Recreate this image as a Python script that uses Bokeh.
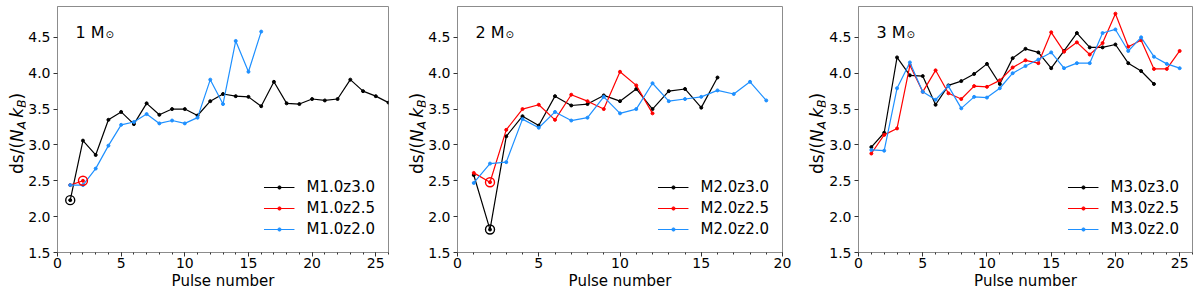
from bokeh.plotting import figure
from bokeh.models import Label, SingleIntervalTicker, NumeralTickFormatter, Range1d, Div
from bokeh.layouts import row
from bokeh.embed import file_html
from bokeh.resources import INLINE

FONT = "DejaVu Sans"
BLACK = "#000000"
RED = "#ff0000"
BLUE = "#1e90ff"

# ---------------- data ----------------
# Panel 1 : 1 Msun
p1_z30_x = list(range(1, 27))
p1_z30_y = [2.23, 3.06, 2.86, 3.35, 3.46, 3.29, 3.58, 3.42, 3.50, 3.50, 3.41, 3.61, 3.71,
            3.68, 3.67, 3.54, 3.88, 3.58, 3.57, 3.64, 3.62, 3.64, 3.91, 3.75, 3.68, 3.59]
p1_z25_x = [1, 2]
p1_z25_y = [2.44, 2.50]
p1_z20_x = list(range(1, 17))
p1_z20_y = [2.44, 2.44, 2.67, 2.99, 3.28, 3.32, 3.43, 3.30, 3.34, 3.30, 3.38, 3.91, 3.57,
            4.45, 4.02, 4.58]
p1_circ_x = [1, 2]
p1_circ_y = [2.23, 2.50]
p1_circ_c = [BLACK, RED]

# Panel 2 : 2 Msun
p2_z30_x = list(range(1, 17))
p2_z30_y = [2.58, 1.82, 3.12, 3.40, 3.27, 3.68, 3.55, 3.57, 3.69, 3.61, 3.78, 3.50, 3.75,
            3.78, 3.52, 3.94]
p2_z25_x = list(range(1, 13))
p2_z25_y = [2.61, 2.48, 3.21, 3.50, 3.56, 3.35, 3.70, 3.61, 3.50, 4.02, 3.83, 3.44]
p2_z20_x = list(range(1, 20))
p2_z20_y = [2.47, 2.74, 2.76, 3.36, 3.24, 3.46, 3.34, 3.38, 3.67, 3.44, 3.50, 3.86, 3.61,
            3.64, 3.67, 3.76, 3.71, 3.88, 3.62]
p2_circ_x = [2, 2]
p2_circ_y = [1.82, 2.48]
p2_circ_c = [BLACK, RED]

# Panel 3 : 3 Msun
p3_z30_x = list(range(1, 24))
p3_z30_y = [2.97, 3.17, 4.22, 3.97, 3.96, 3.56, 3.83, 3.89, 3.99, 4.13, 3.85, 4.21, 4.34,
            4.29, 4.07, 4.31, 4.56, 4.36, 4.36, 4.40, 4.14, 4.03, 3.85]
p3_z25_x = list(range(1, 26))
p3_z25_y = [2.88, 3.14, 3.23, 4.11, 3.74, 4.04, 3.72, 3.64, 3.82, 3.81, 3.90, 4.08, 4.18,
            4.14, 4.57, 4.30, 4.43, 4.26, 4.42, 4.83, 4.37, 4.46, 4.06, 4.06, 4.31]
p3_z20_x = list(range(1, 26))
p3_z20_y = [2.93, 2.92, 3.79, 4.15, 3.74, 3.63, 3.82, 3.51, 3.67, 3.66, 3.79, 4.00, 4.10,
            4.19, 4.29, 4.07, 4.14, 4.14, 4.56, 4.61, 4.31, 4.50, 4.23, 4.13, 4.07]
p3_circ_x = []
p3_circ_y = []
p3_circ_c = []

x_max = [26, 20, 26]
y_min, y_max = 1.5, 4.93
mass_labels = ["1 M", "2 M", "3 M"]
legend_names = [["M1.0z3.0", "M1.0z2.5", "M1.0z2.0"],
                ["M2.0z3.0", "M2.0z2.5", "M2.0z2.0"],
                ["M3.0z3.0", "M3.0z2.5", "M3.0z2.0"]]
x_label = "Pulse number"
y_tick_interval = 0.5
x_tick_interval = 5

HEIGHT = 297
YLAB_W = 25


def make_ylabel():
    """HTML block holding the rotated y-axis label ds/(N_A k_B)."""
    sub = "font-size:12px;line-height:0;vertical-align:-3px;"
    html = (
        f'<div style="position:relative;width:{YLAB_W}px;height:{HEIGHT}px;overflow:visible;">'
        '<div style="position:absolute;left:8.5px;top:174px;transform:rotate(-90deg);'
        "transform-origin:0 0;white-space:nowrap;font-family:'DejaVu Sans';"
        'font-size:17px;line-height:17px;color:#000;">'
        f'ds/(<i>N</i><span style="font-style:italic;{sub}">A</span>'
        f'&#8201;<i>k</i><span style="font-style:italic;{sub}">B</span>)'
        '</div></div>'
    )
    return Div(text=html, width=YLAB_W, height=HEIGHT, margin=0)


def make_panel(width, bl, br, xmax, mass, names, series, circles):
    p = figure(width=width, height=HEIGHT, x_range=Range1d(0, xmax),
               y_range=Range1d(y_min, y_max), output_backend="svg",
               toolbar_location=None, min_border_left=bl, min_border_right=br,
               min_border_top=6, min_border_bottom=45)
    p.xgrid.visible = False
    p.ygrid.visible = False
    p.outline_line_color = "#8c8c8c"
    p.background_fill_color = "white"
    p.border_fill_color = "white"

    p.xaxis.ticker = SingleIntervalTicker(interval=x_tick_interval, num_minor_ticks=5)
    p.yaxis.ticker = SingleIntervalTicker(interval=y_tick_interval, num_minor_ticks=0)
    p.yaxis.formatter = NumeralTickFormatter(format="0.0")
    for ax in (p.xaxis, p.yaxis):
        ax.axis_line_color = "#8c8c8c"
        ax.major_tick_line_color = "#333333"
        ax.minor_tick_line_color = "#333333"
        ax.major_tick_out = 4
        ax.major_tick_in = 0
        ax.minor_tick_out = 2
        ax.minor_tick_in = 0
        ax.major_label_text_font = FONT
        ax.major_label_text_font_size = "14px"
        ax.major_label_text_color = "#000000"
    p.xaxis.major_label_standoff = 1
    p.yaxis.major_label_standoff = 3
    p.xaxis.axis_label = x_label
    p.xaxis.axis_label_text_font = FONT
    p.xaxis.axis_label_text_font_size = "15px"
    p.xaxis.axis_label_text_font_style = "normal"
    p.xaxis.axis_label_text_color = "#000000"
    p.xaxis.axis_label_standoff = 1

    colors = [BLACK, RED, BLUE]
    for (xs, ys), c, nm in zip(series, colors, names):
        p.line(xs, ys, line_color=c, line_width=1.2, legend_label=nm)
        p.scatter(xs, ys, marker="circle", size=3, fill_color=c, line_color=c,
                  legend_label=nm)
    cx, cy, cc = circles
    if cx:
        p.scatter(cx, cy, marker="circle", size=9, fill_color=None, line_color=cc,
                  line_width=1.4)

    lg = p.legend[0]
    lg.location = "bottom_right"
    lg.background_fill_alpha = 0
    lg.border_line_alpha = 0
    lg.label_text_font = FONT
    lg.label_text_font_size = "15px"
    lg.label_text_color = "#000000"
    lg.glyph_width = 31
    lg.glyph_height = 8
    lg.label_height = 21
    lg.label_standoff = 12
    lg.spacing = 0
    lg.padding = 10
    lg.margin = 3

    # panel title "N M_sun"
    p.add_layout(Label(x=18, y=4.565, x_units="screen", y_units="data",
                       text=mass, text_font=FONT, text_font_size="16px",
                       text_color="#000000",
                       text_baseline="alphabetic", text_align="left"))
    p.add_layout(Label(x=18 + 30, y=4.545, x_units="screen", y_units="data",
                       text="\u2299", text_font=FONT, text_font_size="10px",
                       text_color="#000000",
                       text_baseline="alphabetic", text_align="left"))
    return p


y1 = make_ylabel()
p1 = make_panel(400 - YLAB_W, 29, 12, x_max[0], mass_labels[0], legend_names[0],
                [(p1_z30_x, p1_z30_y), (p1_z25_x, p1_z25_y), (p1_z20_x, p1_z20_y)],
                (p1_circ_x, p1_circ_y, p1_circ_c))
y2 = make_ylabel()
p2 = make_panel(400 - YLAB_W, 31, 18, x_max[1], mass_labels[1], legend_names[1],
                [(p2_z30_x, p2_z30_y), (p2_z25_x, p2_z25_y), (p2_z20_x, p2_z20_y)],
                (p2_circ_x, p2_circ_y, p2_circ_c))
y3 = make_ylabel()
p3 = make_panel(400 - YLAB_W, 33, 8, x_max[2], mass_labels[2], legend_names[2],
                [(p3_z30_x, p3_z30_y), (p3_z25_x, p3_z25_y), (p3_z20_x, p3_z20_y)],
                (p3_circ_x, p3_circ_y, p3_circ_c))

layout = row(y1, p1, y2, p2, y3, p3)
open("out.html", "w").write(file_html(layout, INLINE))
